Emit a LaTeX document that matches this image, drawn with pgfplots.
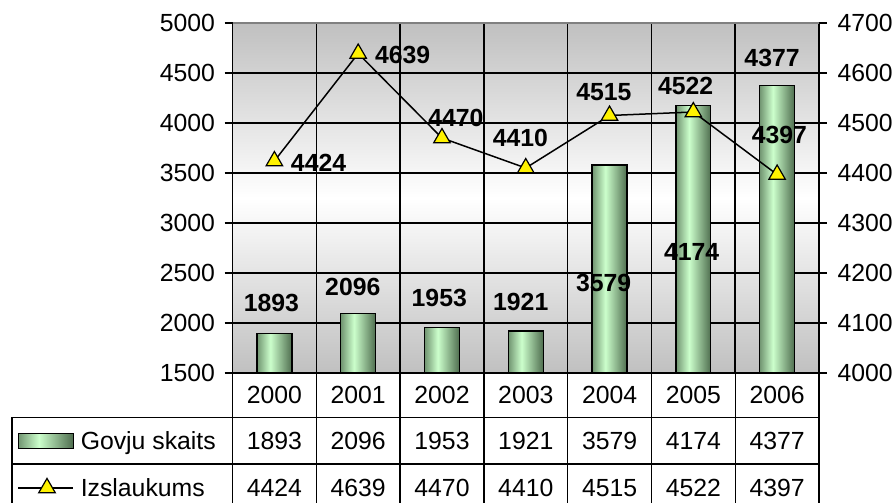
\documentclass[border=0pt]{standalone}
\usepackage{fontspec}
\setmainfont{Liberation Sans}
\usepackage{pgfplots}
\pgfplotsset{compat=1.18}
\definecolor{bggray}{RGB}{192,192,192}
\pgfdeclarehorizontalshading{cyl}{100bp}{rgb(0bp)=(0.44,0.58,0.44); rgb(25bp)=(0.44,0.58,0.44); rgb(44bp)=(0.80,1.0,0.80); rgb(75bp)=(0.31,0.43,0.31); rgb(100bp)=(0.31,0.43,0.31)}
\newcommand{\fs}{\fontsize{24.8}{29}\selectfont}
\begin{document}
\begin{tikzpicture}
\useasboundingbox (0pt,0pt) rectangle (894pt,503pt);
\pgfplotsset{
  common/.style={
    at={(232.5pt,130pt)}, anchor=south west,
    scale only axis, width=586.5pt, height=350pt,
    xmin=-0.5, xmax=6.5,
    tick align=center, major tick length=16pt,
    axis line style={black, line width=1.5pt},
    tick style={black, line width=1.3pt},
    ticklabel style={font=\fs},
    /pgf/number format/assume math mode=true,
    /pgf/number format/1000 sep={},
  },
  gbar/.style={ybar, bar width=0.417, draw=black, line width=1.3pt, shade, shading=cyl},
}
\begin{axis}[common,
  ymin=1500, ymax=5000,
  xtick=\empty,
  ytick={1500,2000,...,5000}, ytick pos=left,
  yticklabel style={xshift=-6pt},
  axis background/.style={shade, top color=bggray, bottom color=bggray, middle color=white},
]
% grid lines
\draw[black, line width=1.5pt] (axis cs:0.5,1500) -- (axis cs:0.5,5000);
\draw[black, line width=1.5pt] (axis cs:1.5,1500) -- (axis cs:1.5,5000);
\draw[black, line width=1.5pt] (axis cs:2.5,1500) -- (axis cs:2.5,5000);
\draw[black, line width=1.5pt] (axis cs:3.5,1500) -- (axis cs:3.5,5000);
\draw[black, line width=1.5pt] (axis cs:4.5,1500) -- (axis cs:4.5,5000);
\draw[black, line width=1.5pt] (axis cs:5.5,1500) -- (axis cs:5.5,5000);
\draw[black, line width=1.5pt] (axis cs:-0.5,2000) -- (axis cs:6.5,2000);
\draw[black, line width=1.5pt] (axis cs:-0.5,2500) -- (axis cs:6.5,2500);
\draw[black, line width=1.5pt] (axis cs:-0.5,3000) -- (axis cs:6.5,3000);
\draw[black, line width=1.5pt] (axis cs:-0.5,3500) -- (axis cs:6.5,3500);
\draw[black, line width=1.5pt] (axis cs:-0.5,4000) -- (axis cs:6.5,4000);
\draw[black, line width=1.5pt] (axis cs:-0.5,4500) -- (axis cs:6.5,4500);
\addplot[gbar] coordinates {(0,1893)};
\addplot[gbar] coordinates {(1,2096)};
\addplot[gbar] coordinates {(2,1953)};
\addplot[gbar] coordinates {(3,1921)};
\addplot[gbar] coordinates {(4,3579)};
\addplot[gbar] coordinates {(5,4174)};
\addplot[gbar] coordinates {(6,4377)};
\node[font=\fs\bfseries] at (axis cs:-0.036,2200) {1893};
\node[font=\fs\bfseries] at (axis cs:0.936,2363) {2096};
\node[font=\fs\bfseries] at (axis cs:1.968,2250) {1953};
\node[font=\fs\bfseries] at (axis cs:2.94,2213) {1921};
\node[font=\fs\bfseries] at (axis cs:3.93,2397) {3579};
\node[font=\fs\bfseries] at (axis cs:4.98,2713) {4174};
\node[font=\fs\bfseries] at (axis cs:5.94,4647) {4377};
\node[font=\fs\bfseries] at (axis cs:0.527,3600) {4424};
\node[font=\fs\bfseries] at (axis cs:1.531,4680) {4639};
\node[font=\fs\bfseries] at (axis cs:2.167,4047) {4470};
\node[font=\fs\bfseries] at (axis cs:2.936,3847) {4410};
\node[font=\fs\bfseries] at (axis cs:3.932,4313) {4515};
\node[font=\fs\bfseries] at (axis cs:4.908,4372) {4522};
\node[font=\fs\bfseries] at (axis cs:6.027,3880) {4397};
\end{axis}
\begin{axis}[common,
  ymin=4000, ymax=4700,
  axis x line=none, axis y line*=right,
  ytick={4000,4100,...,4700},
  yticklabel style={xshift=7pt},
  legend cell align=left,
  legend style={draw=none, fill=none, at={(-0.367,-0.162)}, anchor=north west,
    inner sep=0pt, outer sep=0pt, row sep=23pt, column sep=5pt, font=\fs},
]
\addlegendimage{legend image code/.code={\path[shade, shading=cyl, draw=black, line width=1pt] (0pt,-7.5pt) rectangle (55pt,7.5pt);}}
\addlegendentry{Govju skaits}
\addplot[black, line width=1.5pt, mark=triangle*, mark size=9.5pt,
  mark options={fill=yellow, draw=black, line width=1.2pt},
  legend image code/.code={\draw[mark repeat=2,mark phase=2] plot coordinates {(0pt,0pt) (29pt,0pt) (55pt,0pt)};}]
  coordinates {(0,4424) (1,4639) (2,4470) (3,4410) (4,4515) (5,4522) (6,4397)};
\addlegendentry{Izslaukums}
\draw[color=gray, line width=2pt] (rel axis cs:0,1) -- (rel axis cs:1,1);
\end{axis}
% data table grid
\begin{scope}[line width=1.5pt, black]
\draw (12pt,85.5pt) -- (819.1pt,85.5pt);
\draw (12pt,39pt) -- (819.1pt,39pt);
\draw (12pt,85.5pt) -- (12pt,-5pt);
\foreach \x in {232.5,316.3,400.1,483.9,567.7,651.5,735.3,819.1}
  \draw (\x pt,130pt) -- (\x pt,-5pt);
\end{scope}
\foreach \x/\y/\a/\b in {274.4/2000/1893/4424, 358.2/2001/2096/4639, 442/2002/1953/4470, 525.8/2003/1921/4410, 609.6/2004/3579/4515, 693.4/2005/4174/4522, 777.2/2006/4377/4397} {
  \node[font=\fs] at (\x pt,108pt) {\y};
  \node[font=\fs] at (\x pt,62pt) {\a};
  \node[font=\fs] at (\x pt,15pt) {\b};
}
\end{tikzpicture}
\end{document}
